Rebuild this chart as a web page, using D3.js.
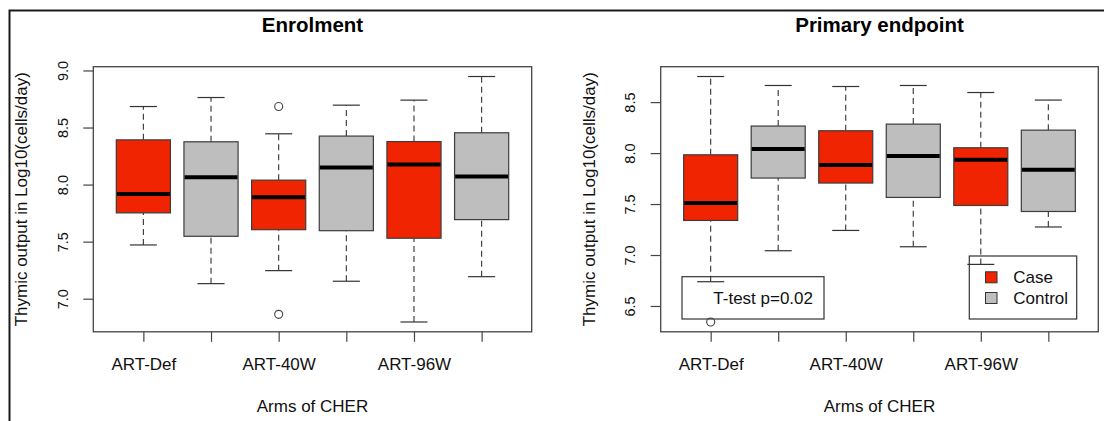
<!DOCTYPE html>
<html>
<head>
<meta charset="utf-8">
<script src="https://cdn.jsdelivr.net/npm/d3@7"></script>
<style>
  html, body { margin: 0; padding: 0; background: #fff; }
  svg { display: block; font-family: "Liberation Sans", Arial, sans-serif; }
</style>
</head>
<body>
<svg id="chart" width="1104" height="421"></svg>
<script>
// Categories
const arms = ["ART-Def", "ART-40W", "ART-96W"];
const groups = ["Case", "Control"];
const tickLabels = ["ART-Def", "", "ART-40W", "", "ART-96W", ""];

// Enrolment: box statistics, one entry per box (Case/Control for each arm)
const enrolLow  = [7.471, 7.132, 7.246, 7.153, 6.796, 7.193];
const enrolQ1   = [7.752, 7.547, 7.605, 7.596, 7.530, 7.693];
const enrolMed  = [7.918, 8.065, 7.889, 8.149, 8.175, 8.070];
const enrolQ3   = [8.392, 8.375, 8.039, 8.425, 8.377, 8.454];
const enrolHigh = [8.684, 8.763, 8.445, 8.696, 8.740, 8.947];
const enrolOut  = [[], [], [8.684, 6.863], [], [], []];
const enrolTicks = [7.0, 7.5, 8.0, 8.5, 9.0];

// Primary endpoint: box statistics
const primLow  = [6.738, 7.042, 7.241, 7.081, 6.908, 7.275];
const primQ1   = [7.339, 7.755, 7.706, 7.565, 7.486, 7.427];
const primMed  = [7.510, 8.039, 7.882, 7.971, 7.934, 7.836];
const primQ3   = [7.983, 8.265, 8.219, 8.284, 8.052, 8.225];
const primHigh = [8.751, 8.663, 8.653, 8.663, 8.594, 8.520];
const primOut  = [[6.343], [], [], [], [], []];
const primTicks = [6.5, 7.0, 7.5, 8.0, 8.5];

const testLabel = "T-test p=0.02";

const groupColor = { Case: "#f02400", Control: "#bebebe" };
const boxStroke = "#3c3c3c";

const svg = d3.select("#chart");

// outer frame (top and left edges)
svg.append("path")
  .attr("d", "M9.5,421V10.5H1104")
  .attr("fill", "none")
  .attr("stroke", "#1a1a1a")
  .attr("stroke-width", 2);

function buildBoxes(low, q1, med, q3, high, out) {
  return low.map((_, i) => ({
    pos: i + 1,
    arm: arms[Math.floor(i / 2)],
    group: groups[i % 2],
    low: low[i], q1: q1[i], med: med[i], q3: q3[i], high: high[i],
    out: out[i]
  }));
}

function drawPanel(cfg) {
  const { left, right, top, bottom, title, boxes, ticks } = cfg;
  const g = svg.append("g");

  // x domain: positions 0.5..6.5 widened by 4%, as base graphics does
  const n = boxes.length;
  const xPad = n * 0.04;
  const x = d3.scaleLinear().domain([0.5 - xPad, n + 0.5 + xPad]).range([left, right]);

  const allVals = boxes.flatMap(b => [b.low, b.high, ...b.out]);
  const [vMin, vMax] = d3.extent(allVals);
  const yPad = (vMax - vMin) * 0.04;
  const y = d3.scaleLinear().domain([vMin - yPad, vMax + yPad]).range([bottom, top]);

  const unit = x(2) - x(1);
  const boxW = unit * 0.8;
  const capW = boxW * 0.5;

  // whiskers (dashed)
  const wh = g.append("g").attr("stroke", "#333").attr("stroke-width", 1.1)
    .attr("stroke-dasharray", "6,4").attr("fill", "none");
  boxes.forEach(b => {
    wh.append("line").attr("x1", x(b.pos)).attr("x2", x(b.pos))
      .attr("y1", y(b.low)).attr("y2", y(b.q1));
    wh.append("line").attr("x1", x(b.pos)).attr("x2", x(b.pos))
      .attr("y1", y(b.q3)).attr("y2", y(b.high));
  });

  // whisker caps
  const caps = g.append("g").attr("stroke", "#333").attr("stroke-width", 1.2);
  boxes.forEach(b => {
    [b.low, b.high].forEach(v => {
      caps.append("line")
        .attr("x1", x(b.pos) - capW / 2).attr("x2", x(b.pos) + capW / 2)
        .attr("y1", y(v)).attr("y2", y(v));
    });
  });

  // boxes
  g.selectAll("rect.box").data(boxes).join("rect")
    .attr("class", "box")
    .attr("x", d => x(d.pos) - boxW / 2)
    .attr("width", boxW)
    .attr("y", d => y(d.q3))
    .attr("height", d => y(d.q1) - y(d.q3))
    .attr("fill", d => groupColor[d.group])
    .attr("stroke", boxStroke)
    .attr("stroke-width", 1.2);

  // medians
  g.selectAll("line.med").data(boxes).join("line")
    .attr("class", "med")
    .attr("x1", d => x(d.pos) - boxW / 2 + 0.6)
    .attr("x2", d => x(d.pos) + boxW / 2 - 0.6)
    .attr("y1", d => y(d.med)).attr("y2", d => y(d.med))
    .attr("stroke", "#000").attr("stroke-width", 4);

  // outliers
  boxes.forEach(b => {
    b.out.forEach(v => {
      g.append("circle").attr("cx", x(b.pos)).attr("cy", y(v)).attr("r", 4)
        .attr("fill", "none").attr("stroke", "#444").attr("stroke-width", 1.1);
    });
  });

  // plot frame
  g.append("rect")
    .attr("x", left).attr("y", top)
    .attr("width", right - left).attr("height", bottom - top)
    .attr("fill", "none").attr("stroke", "#444").attr("stroke-width", 1.3);

  // y axis
  const yAxis = g.append("g").attr("transform", `translate(${left},0)`)
    .call(d3.axisLeft(y).tickValues(ticks).tickFormat(d3.format(".1f")).tickSize(10));
  yAxis.select(".domain").remove();
  yAxis.selectAll(".tick line").attr("stroke", "#444").attr("stroke-width", 1.2);
  yAxis.selectAll(".tick text")
    .attr("x", 0).attr("dy", "0.36em")
    .attr("transform", "translate(-31,0) rotate(-90)")
    .attr("text-anchor", "middle")
    .attr("fill", "#111")
    .style("font-size", "14.5px");

  // x axis
  const xAxis = g.append("g").attr("transform", `translate(0,${bottom})`)
    .call(d3.axisBottom(x).tickValues(boxes.map(b => b.pos))
      .tickFormat((d, i) => tickLabels[i]).tickSize(10).tickPadding(16));
  xAxis.select(".domain").remove();
  xAxis.selectAll(".tick line").attr("stroke", "#444").attr("stroke-width", 1.2);
  xAxis.selectAll(".tick text").attr("fill", "#111").style("font-size", "17px");

  // titles
  g.append("text").attr("x", (left + right) / 2).attr("y", 32)
    .attr("text-anchor", "middle").style("font-size", "20.5px").style("font-weight", "bold")
    .attr("fill", "#000").text(title);
  g.append("text").attr("x", (left + right) / 2).attr("y", 411.5)
    .attr("text-anchor", "middle").style("font-size", "17px").attr("fill", "#111")
    .text("Arms of CHER");
  g.append("text")
    .attr("transform", `translate(${left - 66},${(top + bottom) / 2}) rotate(-90)`)
    .attr("text-anchor", "middle").style("font-size", "17px").attr("fill", "#111")
    .text("Thymic output in Log10(cells/day)");

  return { g, x, y };
}

const p1 = drawPanel({
  left: 93.3, right: 531.7, top: 66.7, bottom: 331.8,
  title: "Enrolment",
  boxes: buildBoxes(enrolLow, enrolQ1, enrolMed, enrolQ3, enrolHigh, enrolOut),
  ticks: enrolTicks
});

const p2 = drawPanel({
  left: 660.7, right: 1098.3, top: 66.7, bottom: 331.8,
  title: "Primary endpoint",
  boxes: buildBoxes(primLow, primQ1, primMed, primQ3, primHigh, primOut),
  ticks: primTicks
});

// test annotation box
const tBox = p2.g.append("g");
tBox.append("rect").attr("x", 682).attr("y", 276.7).attr("width", 142).attr("height", 42.3)
  .attr("fill", "none").attr("stroke", "#333").attr("stroke-width", 1.2);
tBox.append("text").attr("x", 713.3).attr("y", 304.4)
  .style("font-size", "17px").attr("fill", "#111").text(testLabel);

// legend
const leg = p2.g.append("g");
leg.append("rect").attr("x", 969.3).attr("y", 256).attr("width", 107.4).attr("height", 63)
  .attr("fill", "none").attr("stroke", "#333").attr("stroke-width", 1.2);
groups.forEach((grp, i) => {
  const cy = 277.3 + i * 20.7;
  leg.append("rect").attr("x", 985.5).attr("y", cy - 5.5).attr("width", 11.5).attr("height", 11)
    .attr("fill", groupColor[grp]).attr("stroke", "#333").attr("stroke-width", 1);
  leg.append("text").attr("x", 1013.3).attr("y", cy).attr("dy", "0.36em")
    .style("font-size", "17px").attr("fill", "#111").text(grp);
});
</script>
</body>
</html>
